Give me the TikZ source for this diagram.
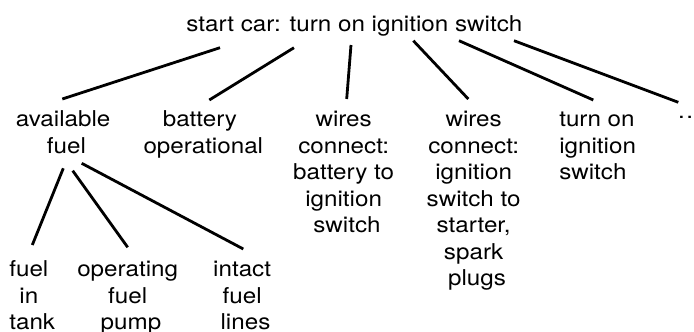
\documentclass[tikz,border=0pt]{standalone}
\usepackage{fontspec}
\setmainfont{TeX Gyre Heros}[FakeStretch=1.11]
\newcommand\trs{\mbox{\ }}
\begin{document}
\begin{tikzpicture}[x=1pt,y=1pt,
  lbl/.style={inner sep=0pt, outer sep=0pt, align=center, font=\fontsize{21.8}{26.5}\selectfont},
  lbll/.style={lbl, align=left},
  edge/.style={line width=2.8pt}]
\useasboundingbox (0,0) rectangle (694,-332);
% base anchor of a multi-line node = baseline of its last line
\node[lbl,anchor=base] (title) at (354.4,-31) {start car: turn on ignition switch};
\node[lbl,anchor=base] (avail) at (66.5,-153) {available\trs\\fuel};
\node[lbl,anchor=base] (batt) at (203.3,-153) {battery\trs\\operational};
\node[lbl,anchor=base] (wire1) at (347,-232.5) {wires\trs\\connect:\trs\\battery to\trs\\ignition\trs\\switch};
\node[lbl,anchor=base] (wire2) at (477,-285.5) {wires\trs\\connect:\trs\\ignition\trs\\switch to\trs\\starter,\trs\\spark\trs\\plugs};
\node[lbll,anchor=base west] (turn) at (559.3,-179.5) {turn on\\ignition\\switch};
\node[lbl,anchor=base west] (dots) at (678,-118.7) {.\kern1.6pt.};
\node[lbl,anchor=base] (tank) at (32.2,-329.7) {fuel\trs\\in\trs\\tank};
\node[lbl,anchor=base] (pump) at (131,-329.7) {operating\trs\\fuel\trs\\pump};
\node[lbl,anchor=base] (lines) at (245.5,-329.7) {intact\trs\\fuel\trs\\lines};
\draw[edge] ([shift={(-134.4,-16.7)}]title.base) -- ([shift={(-4.2,54)}]avail.base);
\draw[edge] ([shift={(-60.4,-16.7)}]title.base) -- ([shift={(6,53)}]batt.base);
\draw[edge] ([shift={(-3.4,-14)}]title.base) -- ([shift={(-0.3,133.5)}]wire1.base);
\draw[edge] ([shift={(58.9,-9.7)}]title.base) -- ([shift={(-8.7,186.5)}]wire2.base);
\draw[edge] ([shift={(104.6,-9.7)}]title.base) -- ([shift={(34,79.5)}]turn.base west);
\draw[edge] ([shift={(159.6,-9.7)}]title.base) -- ([shift={(0.3,16.4)}]dots.base west);
\draw[edge] ([shift={(-3.2,-15.3)}]avail.base) -- ([shift={(0.1,84.7)}]tank.base);
\draw[edge] ([shift={(6.2,-17.7)}]avail.base) -- ([shift={(-3.3,82.4)}]pump.base);
\draw[edge] ([shift={(15.2,-10.3)}]avail.base) -- ([shift={(-2.2,80.7)}]lines.base);
\end{tikzpicture}
\end{document}
